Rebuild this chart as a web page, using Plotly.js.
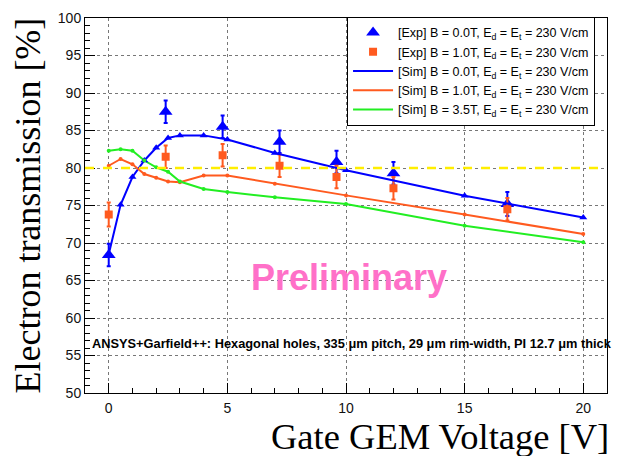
<!DOCTYPE html>
<html><head><meta charset="utf-8">
<script src="https://cdn.plot.ly/plotly-3.0.1.min.js"></script>
<style>body{margin:0;padding:0;background:#fff}#chart{width:621px;height:456px}</style>
</head><body><div id="chart"></div>
<script>
// Experimental data
const expX = [0, 2.4, 4.8, 7.2, 9.6, 12, 16.8];
const expB0 = [68.4, 87.5, 85.5, 83.5, 80.8, 79.3, 75.2];
const expB0Err = [1.5, 1.5, 1.5, 1.5, 1.5, 1.5, 1.6];
const expB1 = [73.8, 81.5, 81.7, 80.3, 78.8, 77.3, 74.5];
const expB1Err = [1.6, 1.5, 1.5, 1.5, 1.5, 1.5, 1.5];
// Simulation data
const simX = [0, 0.5, 1, 1.5, 2, 2.5, 3, 4, 5, 7, 10, 15, 20];
const simB0 = [68.5, 75.1, 78.8, 81.0, 82.7, 84.0, 84.35, 84.35, 83.8, 82.0, 79.7, 76.3, 73.4];
const simB1 = [80.3, 81.2, 80.5, 79.2, 78.7, 78.2, 78.1, 79.0, 79.0, 77.9, 76.35, 73.8, 71.2];
const simB35 = [82.3, 82.5, 82.3, 81.0, 80.1, 79.5, 78.2, 77.2, 76.8, 76.1, 75.2, 72.3, 70.1];
const refLine = 80;
const xRange = [-1, 21];
const yRange = [50, 100];

const blue = '#0000ff', orange = '#ff5a1f', green = '#22ee22';
const names = [
  '[Exp] B = 0.0T, E<sub>d</sub> = E<sub>t</sub> = 230 V/cm',
  '[Exp] B = 1.0T, E<sub>d</sub> = E<sub>t</sub> = 230 V/cm',
  '[Sim] B = 0.0T, E<sub>d</sub> = E<sub>t</sub> = 230 V/cm',
  '[Sim] B = 1.0T, E<sub>d</sub> = E<sub>t</sub> = 230 V/cm',
  '[Sim] B = 3.5T, E<sub>d</sub> = E<sub>t</sub> = 230 V/cm'
];

const traces = [
  {x: expX, y: expB0, name: names[0], mode: 'markers', type: 'scatter',
   marker: {symbol: 'triangle-up', size: 12, color: blue},
   error_y: {type: 'data', array: expB0Err, color: blue, thickness: 2, width: 2}},
  {x: expX, y: expB1, name: names[1], mode: 'markers', type: 'scatter',
   marker: {symbol: 'square', size: 8, color: orange},
   error_y: {type: 'data', array: expB1Err, color: orange, thickness: 2, width: 2}},
  {x: simX, y: simB0, name: names[2], mode: 'lines', type: 'scatter', line: {color: blue, width: 2}},
  {x: simX, y: simB1, name: names[3], mode: 'lines', type: 'scatter', line: {color: orange, width: 2}},
  {x: simX, y: simB35, name: names[4], mode: 'lines', type: 'scatter', line: {color: green, width: 2}},
  {x: simX, y: simB0, mode: 'markers', type: 'scatter', showlegend: false, hoverinfo: 'skip',
   marker: {symbol: 'triangle-up', size: 7, color: blue}},
  {x: simX, y: simB1, mode: 'markers', type: 'scatter', showlegend: false, hoverinfo: 'skip',
   marker: {symbol: 'circle', size: 4, color: orange}},
  {x: simX, y: simB35, mode: 'markers', type: 'scatter', showlegend: false, hoverinfo: 'skip',
   marker: {symbol: 'circle', size: 4, color: green}}
];

const axisCommon = {
  showline: true, linecolor: '#000', linewidth: 1, mirror: true,
  ticks: 'inside', ticklen: 10, tickcolor: '#000', tickwidth: 1,
  showgrid: true, gridcolor: '#777', griddash: 'dot', gridwidth: 1,
  zeroline: false,
  tickfont: {family: 'Liberation Sans, Arial, sans-serif', size: 14, color: '#111'},
  minor: {dtick: 1, ticks: 'inside', ticklen: 5, tickcolor: '#000', showgrid: false}
};

const layout = {
  width: 621, height: 456,
  margin: {l: 85, r: 14, t: 18, b: 63},
  paper_bgcolor: '#fff', plot_bgcolor: '#fff',
  xaxis: Object.assign({}, axisCommon, {range: xRange, tickvals: [0, 5, 10, 15, 20], ticklabelstandoff: 2}),
  yaxis: Object.assign({}, axisCommon, {range: yRange, tickvals: [50,55,60,65,70,75,80,85,90,95,100]}),
  showlegend: true,
  legend: {x: 0.502, y: 1.003, xanchor: 'left', yanchor: 'top',
    bgcolor: '#fff', bordercolor: '#000', borderwidth: 1,
    font: {family: 'Liberation Sans, Arial, sans-serif', size: 12.5, color: '#000'},
    tracegroupgap: 0, itemwidth: 40},
  shapes: [
    {type: 'line', xref: 'paper', x0: 0, x1: 1, yref: 'y', y0: refLine, y1: refLine,
     line: {color: '#ffee00', width: 2.5, dash: 'dash'}, layer: 'above'}
  ],
  annotations: [
    {text: 'Electron transmission [%]', xref: 'paper', yref: 'paper', x: -0.111, y: 0.5,
     textangle: -90, showarrow: false, xanchor: 'center', yanchor: 'middle',
     font: {family: 'Liberation Serif, Times New Roman, serif', size: 36, color: '#000'}},
    {text: 'Gate GEM Voltage [V]', xref: 'paper', yref: 'paper', x: 1.008, y: -0.117,
     showarrow: false, xanchor: 'right', yanchor: 'middle',
     font: {family: 'Liberation Serif, Times New Roman, serif', size: 36.5, color: '#000'}},
    {text: '<b>Preliminary</b>', xref: 'paper', yref: 'paper', x: 0.506, y: 0.309,
     showarrow: false, xanchor: 'center', yanchor: 'middle',
     font: {family: 'Liberation Sans, Arial, sans-serif', size: 36, color: '#ff70c8'}},
    {text: '<b>ANSYS+Garfield++: Hexagonal holes, 335 μm pitch, 29 μm rim-width, PI 12.7 μm thick</b>',
     xref: 'paper', yref: 'paper', x: 0.01, y: 0.133, showarrow: false,
     xanchor: 'left', yanchor: 'middle',
     font: {family: 'Liberation Sans, Arial, sans-serif', size: 12.8, color: '#000'}}
  ]
};

Plotly.newPlot('chart', traces, layout, {displayModeBar: false, staticPlot: true});
</script></body></html>
